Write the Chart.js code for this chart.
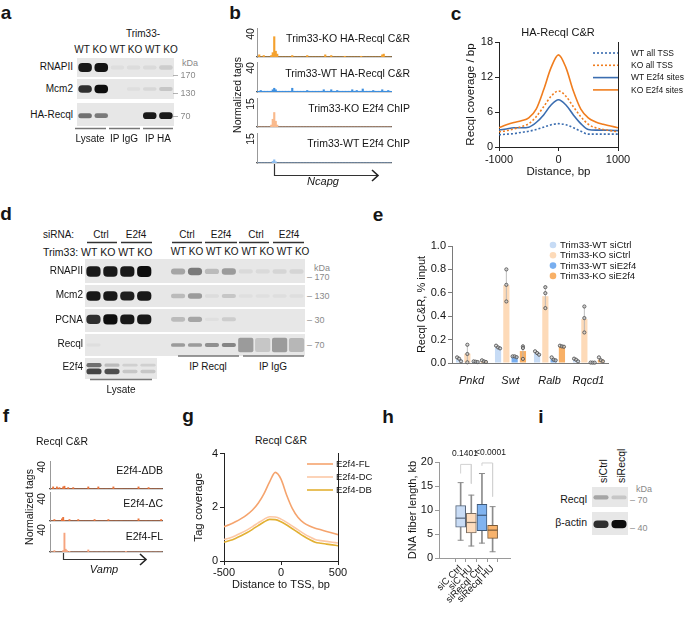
<!DOCTYPE html>
<html>
<head>
<meta charset="utf-8">
<script src="https://cdn.jsdelivr.net/npm/chart.js@4.4.1/dist/chart.umd.min.js"></script>
<style>
  body { margin: 0; background: #fff; }
  #fig { position: relative; width: 685px; height: 624px; overflow: hidden;
         font-family: "Liberation Sans", Arial, sans-serif; color: #151515; }
  #fig canvas { position: absolute; }
  #fig canvas.blot { filter: blur(0.6px); }
  .t { position: absolute; white-space: pre; font-size: 10.5px; line-height: 1; }
  #ov { position: absolute; left: 0; top: 0; z-index: 5; }
</style>
</head>
<body>
<div id="fig"><svg id="ov" width="685" height="624"></svg></div>
<script>
// ---------- data ----------
// a: co-IP blot, band intensity per lane (0..1)
const aLanes = ['WT', 'KO', 'WT', 'KO', 'WT', 'KO'];
const aRNAPII = [0.95, 0.98, 0.04, 0.05, 0.06, 0.12];
const aMcm2 = [0.85, 1.0, 0, 0.04, 0.07, 0.15];
const aRecql = [0.55, 0.5, 0, 0, 0.95, 0.95];

// b: Ncapg locus tracks (normalized tags per bin)
const bKOcr = [0,3,0,0,2,0,0,0,0,2, 6,28,8,4,0,0,0,0,0,0, 0,0,0,2,0,0,0,0,0,0, 0,0,0,2,0,0,0,0,0,0,
               0,0,0,0,0,3,0,0,0,2, 0,0,0,0,0,0,0,0,1,0, 0,0,0,0,0,0,0,0,0,1, 0,0,0,0,0,0,0,0,0,0,
               0,0,0,3,4,0,0,0,0,0];
const bWTcr = [1,1,2,1,1,1,1,1,1,1, 3,5,3,1,1,1,1,1,1,1, 1,1,1,5,1,1,1,1,1,1, 1,1,1,2,1,1,1,1,1,1,
               1,1,1,1,3,1,1,1,1,3, 1,1,1,2,1,1,1,1,1,1, 1,1,1,3,1,1,2,1,1,1, 4,1,1,1,1,1,1,2,1,1,
               1,1,1,3,1,1,1,2,1,1];
const bKOchip = [0,0,0,0,0,0,0,0,0,1, 4,7.5,3,1,0,0,0,0,0,0, 0,0,0,0,0,0,0,0,0,0, 0,0,0,0,0,0,0,0,0,0,
                 0,0,0,0,0,0,0,0,0,0, 0,0,0,0,0,0,0,0,0,0, 0,0,0,0,0,0,0,0,0,0, 0,0,0,0,0,0,0,0,0,0,
                 0,0,0,0,0,0,0,0,0,0];
const bWTchip = [0,0,0,0,0,0,0,0,0,0, 0.8,1.6,0.6,0,0,0,0,0,0,0, 0,0,0,0,0,0,0,0,0,0, 0,0,0,0,0,0,0,0,0,0,
                 0,0,0,0,0,0,0,0,0,0, 0,0,0,0,0,0,0,0,0,0, 0,0,0,0,0,0,0,0,0,0, 0,0,0,0,0,0,0,0,0,0,
                 0,0,0,0,0,0,0,0,0,0];

// c: HA-Recql coverage profiles
const cDist = [-1000,-875,-750,-625,-500,-375,-250,-125,0,125,250,375,500,625,750,875,1000];
const cWTall = [2.1,2.2,2.3,2.5,2.7,3.0,3.4,3.8,4.0,3.8,3.3,2.7,2.2,2.2,2.2,2.2,2.2];
const cKOall = [2.6,2.8,3.1,3.5,4.0,5.2,6.9,8.7,9.6,8.7,6.9,5.2,3.9,3.3,3.0,2.8,2.6];
const cWTe2f4 = [2.9,3.1,3.3,3.3,3.4,4.2,5.5,7.2,8.1,7.2,5.5,4.0,3.0,2.9,2.9,2.85,2.8];
const cKOe2f4 = [3.3,3.8,4.2,4.5,5.0,6.5,9.8,13.6,15.8,13.6,9.6,6.5,5.0,4.3,3.9,3.6,3.3];

// d: co-IP blot, 4 lysate lanes, empty lane, 8 IP lanes
const dLanes = ['WT','KO','WT','KO','','WT','KO','WT','KO','WT','KO','WT','KO'];
const dRNAPII = [0.95,0.95,0.95,1,0, 0.3,0.5,0.2,0.35, 0.06,0.06,0.08,0.08];
const dMcm2 = [0.95,0.95,0.92,0.95,0, 0.2,0.35,0.05,0.15, 0.03,0.03,0.04,0.04];
const dPCNA = [0.85,1,0.95,0.95,0, 0.2,0.3,0.03,0.12, 0,0,0,0];
const dRecql = [0.04,0,0,0,0, 0.35,0.35,0.4,0.45, 0,0,0,0];
const dIgG = [0,0,0,0,0, 0,0,0,0, 0.35,0.15,0.35,0.22];
const dE2f4Up = [0.55,0.2,0.1,0.1];
const dE2f4Lo = [0.75,0.7,0.15,0.15];

// e: Recql C&R qPCR
const eGenes = ['Pnkd', 'Swt', 'Ralb', 'Rqcd1'];
const eSeries = ['Trim33-WT siCtrl', 'Trim33-KO siCtrl', 'Trim33-WT siE2f4', 'Trim33-KO siE2f4'];
const eWTctrl = [0.033, 0.135, 0.085, 0.026];
const eKOctrl = [0.080, 0.665, 0.571, 0.376];
const eWTe2f4 = [0.011, 0.055, 0.033, 0.003];
const eKOe2f4 = [0.015, 0.102, 0.143, 0.028];
const eWTctrlSD = [0.017, 0.012, 0.015, 0.012];
const eKOctrlSD = [0.075, 0.137, 0.092, 0.111];
const eWTe2f4SD = [0.003, 0.004, 0.013, 0.001];
const eKOe2f4SD = [0.007, 0.058, 0.005, 0.018];
const eWTctrlPts = [[0.048,0.037,0.014],[0.148,0.133,0.125],[0.10,0.085,0.071],[0.037,0.028,0.014]];
const eKOctrlPts = [[0.156,0.077,0.006],[0.80,0.668,0.526],[0.648,0.597,0.469],[0.483,0.384,0.261]];
const eWTe2f4Pts = [[0.014,0.011,0.008],[0.057,0.057,0.05],[0.048,0.028,0.023],[0.004,0.003,0.003]];
const eKOe2f4Pts = [[0.023,0.014,0.009],[0.142,0.128,0.035],[0.148,0.142,0.139],[0.048,0.023,0.014]];

// f: Vamp locus tracks
const fDB = [0,0,3,0,0,3,0,2,0,0, 3,4,0,0,2,0,0,0,2,0, 0,0,0,0,0,0,0,0,0,0, 3,0,0,0,0,0,0,0,3,0,
             0,0,0,0,0,0,0,0,0,0, 3,0,0,0,0,0,0,0,0,0, 0,0,0,0,0,0,0,0,0,0, 3,0,0,0,0,0,0,0,2,0,
             0,0,0,0,0,0,0,0,0,0];
const fDC = [0,0,0,2,0,0,0,0,0,3, 5,1,0,0,0,2,0,0,0,0, 0,0,2,0,0,0,0,0,0,0, 0,0,0,0,0,2,0,0,0,0,
             0,0,0,0,0,0,2,0,0,0, 0,0,0,0,0,0,0,0,0,0, 0,0,0,0,0,0,0,0,0,0, 3,0,0,0,0,0,0,0,0,0,
             0,0,0,0,0,0,0,0,2,0];
const fFL = [0,0,0,2,0,0,0,0,0,0, 2,27,4,2,0,1,0,0,0,0, 0,0,0,0,0,0,0,0,0,0, 3,0,0,0,0,0,0,0,0,0,
             0,0,0,0,0,0,0,0,0,0, 0,0,0,0,0,0,0,0,0,0, 1,0,0,0,0,0,0,0,0,0, 0,0,0,0,0,0,0,0,0,0,
             0,0,0,0,0,0,0,0,0,0];

// g: Recql C&R tag coverage around TSS
const gDist = [-500,-450,-400,-350,-300,-250,-200,-150,-100,-50,0,50,100,150,200,250,300,350,400,450,500];
const gFL = [1.28,1.36,1.46,1.58,1.72,1.9,2.15,2.5,2.95,3.3,3.05,2.45,1.95,1.62,1.42,1.3,1.22,1.16,1.1,1.04,0.98];
const gDC = [0.8,0.86,0.94,1.04,1.15,1.28,1.42,1.55,1.65,1.64,1.56,1.44,1.3,1.16,1.02,0.9,0.8,0.76,0.73,0.7,0.67];
const gDB = [0.7,0.76,0.84,0.94,1.05,1.18,1.32,1.45,1.55,1.54,1.46,1.34,1.2,1.06,0.92,0.8,0.7,0.66,0.63,0.6,0.57];

// h: DNA fiber length box plots (kb)
const hGroups = ['siC Ctrl', 'siC HU', 'siRecql Ctrl', 'siRecql HU'];
const hMin = [3.7, 2.5, 3.1, 1.3];
const hQ1 = [6.4, 5.2, 5.7, 4.1];
const hMed = [8.3, 7.4, 8.9, 5.8];
const hQ3 = [10.9, 9.3, 11.2, 6.8];
const hMax = [15.7, 13.1, 17.6, 10.7];
const hP = ['0.1401', '<0.0001'];

// i: knockdown blot
const iLanes = ['siCtrl', 'siRecql'];
const iRecql = [0.3, 0.15];
const iActin = [0.85, 1.0];

// ---------- helpers ----------
const FONT = '"Liberation Sans", Arial, sans-serif';
Chart.defaults.font.family = FONT;
Chart.defaults.font.size = 10.5;
Chart.defaults.color = '#151515';
Chart.defaults.animation = false;
Chart.defaults.responsive = false;
Chart.defaults.events = [];
Chart.defaults.plugins.legend.display = false;
Chart.defaults.plugins.tooltip.enabled = false;

const fig = document.getElementById('fig');
const ov = document.getElementById('ov');

function cv(x, y, w, h, cls) {
  const c = document.createElement('canvas');
  c.width = w; c.height = h;
  c.style.left = x + 'px'; c.style.top = y + 'px';
  if (cls) c.className = cls;
  fig.appendChild(c);
  return c;
}

function T(x, y, s, o = {}) {
  const d = document.createElement('div');
  d.className = 't';
  d.textContent = s;
  d.style.left = x + 'px'; d.style.top = y + 'px';
  if (o.up) {
    d.style.transformOrigin = '0 0';
    d.style.transform = 'rotate(-90deg) translate(0,-50%)';
  } else {
    const a = o.a || 'c';
    const tx = a === 'l' ? '0' : a === 'r' ? '-100%' : '-50%';
    d.style.transform = `translate(${tx},-50%)` + (o.rot ? ` rotate(${o.rot}deg)` : '');
  }
  if (o.s) d.style.fontSize = o.s + 'px';
  if (o.c) d.style.color = o.c;
  if (o.i) d.style.fontStyle = 'italic';
  if (o.b) d.style.fontWeight = 'bold';
  fig.appendChild(d);
}

function line(pts, color, w) {
  const p = document.createElementNS('http://www.w3.org/2000/svg', 'polyline');
  p.setAttribute('points', pts.map(q => q.join(',')).join(' '));
  p.setAttribute('fill', 'none');
  p.setAttribute('stroke', color);
  p.setAttribute('stroke-width', w);
  ov.appendChild(p);
}

const bg = {
  id: 'bg',
  beforeDraw(ch, a, o) {
    if (!o.color) return;
    ch.ctx.save(); ch.ctx.fillStyle = o.color;
    ch.ctx.fillRect(0, 0, ch.width, ch.height); ch.ctx.restore();
  }
};

// legend drawn at fixed spot inside canvas
const lgd = {
  id: 'lgd',
  afterDraw(ch, a, o) {
    if (o.x === undefined) return;
    const ctx = ch.ctx;
    ctx.save();
    ctx.font = `${o.size || 10}px ${FONT}`;
    ctx.textBaseline = 'middle';
    ch.data.datasets.filter(d => d.label).forEach((ds, i) => {
      const y = o.y + i * o.dy;
      if (o.dot) {
        ctx.beginPath(); ctx.arc(o.x, y, 3.3, 0, Math.PI * 2);
        ctx.fillStyle = ds.backgroundColor; ctx.fill();
      } else {
        ctx.beginPath(); ctx.setLineDash(ds.borderDash || []);
        ctx.strokeStyle = ds.borderColor; ctx.lineWidth = ds.borderWidth || 1.5;
        ctx.moveTo(o.x, y); ctx.lineTo(o.x + o.len, y); ctx.stroke();
        ctx.setLineDash([]);
      }
      ctx.fillStyle = '#151515';
      ctx.fillText(ds.label, o.x + o.gap, y + 0.5);
    });
    ctx.restore();
  }
};

function blot(x, y, w, h, bands) {
  new Chart(cv(x, y, w, h, 'blot'), {
    type: 'bar',
    data: {
      labels: bands[0].vals.map((_, i) => i),
      datasets: bands.map(b => ({
        data: b.vals.map(v => v > 0 ? [b.c - b.h0 - b.k * v, b.c + b.h0 + b.k * v] : null),
        backgroundColor: b.vals.map(v => `rgba(14,14,14,${v})`),
        borderRadius: b.r === undefined ? 4 : b.r, borderSkipped: false,
        barPercentage: b.bp || 0.84, categoryPercentage: 1, grouped: false
      }))
    },
    options: {
      scales: { x: { display: false }, y: { display: false, min: 0, max: 1 } },
      plugins: { bg: { color: '#e7e7e7' } }
    },
    plugins: [bg]
  });
}

function track(x, y, w, h, vals, max, color) {
  new Chart(cv(x, y, w, h), {
    type: 'bar',
    data: { labels: vals.map((_, i) => i),
      datasets: [{ data: vals, backgroundColor: color, barPercentage: 1, categoryPercentage: 1 }] },
    options: {
      layout: { padding: { left: 1, top: 0, right: 0, bottom: 1 } },
      scales: {
        x: { grid: { display: false }, ticks: { display: false }, border: { color: '#555', width: 1.2 },
             afterFit: s => { s.height = 0; } },
        y: { min: 0, max, grid: { display: false }, ticks: { display: false }, border: { color: '#999', width: 1 },
             afterFit: s => { s.width = 0; } }
      }
    }
  });
}

// ---------- panel letters ----------
[['a', 6, 12], ['b', 235, 12], ['c', 456, 13], ['d', 6, 213], ['e', 378, 214],
 ['f', 6, 415], ['g', 188, 415], ['h', 388, 416], ['i', 541, 416]]
  .forEach(([s, x, y]) => T(x, y, s, { b: true, s: 19 }));

// ---------- a ----------
T(143, 34, 'Trim33-', { s: 10 });
T(126, 50, aLanes.join(' '), { s: 10 });
blot(77, 58, 97, 19, [{ vals: aRNAPII, c: 0.5, h0: 0.1, k: 0.14 }]);
blot(77, 79, 97, 20, [{ vals: aMcm2, c: 0.5, h0: 0.08, k: 0.13 }]);
blot(77, 103, 97, 23, [{ vals: aRecql, c: 0.45, h0: 0.06, k: 0.09 }]);
T(73, 67, 'RNAPII', { a: 'r', s: 10 }); T(73, 89, 'Mcm2', { a: 'r', s: 10 }); T(73, 115, 'HA-Recql', { a: 'r', s: 10 });
T(182, 63, 'kDa', { a: 'l', s: 9, c: '#8a8a8a' });
T(173, 75, '– 170', { a: 'l', s: 9, c: '#8a8a8a' });
T(173, 93, '– 130', { a: 'l', s: 9, c: '#8a8a8a' });
T(173, 116, '– 70', { a: 'l', s: 9, c: '#8a8a8a' });
line([[75, 128.5], [106, 128.5]], '#777', 1.5);
line([[109, 128.5], [140, 128.5]], '#777', 1.5);
line([[143, 128.5], [173, 128.5]], '#777', 1.5);
T(90, 139, 'Lysate', { s: 10 }); T(124, 139, 'IP IgG', { s: 10 }); T(158, 139, 'IP HA', { s: 10 });

// ---------- b ----------
track(256, 28, 136, 30, bKOcr, 40, '#f4a12e');
track(256, 62, 136, 31, bWTcr, 40, '#3d8fe0');
track(256, 98, 136, 30, bKOchip, 15, '#f9b98c');
track(256, 133, 136, 31, bWTchip, 15, '#8dbdf0');
T(237, 95, 'Normalized tags', { rot: -90 });
T(250, 34, '40', { rot: -90 }); T(250, 68, '40', { rot: -90 });
T(250, 104, '15', { rot: -90 }); T(250, 139, '15', { rot: -90 });
T(410, 38, 'Trim33-KO HA-Recql C&R', { a: 'r' });
T(410, 73, 'Trim33-WT HA-Recql C&R', { a: 'r' });
T(410, 108, 'Trim33-KO E2f4 ChIP', { a: 'r' });
T(410, 143, 'Trim33-WT E2f4 ChIP', { a: 'r' });
line([[274.5, 164], [274.5, 175.5], [378, 175.5]], '#333', 1.2);
line([[372, 170], [378, 175.5], [372, 181]], '#222', 1.6);
T(323, 181, 'Ncapg', { i: true, s: 11 });

// ---------- c ----------
const axisDark = { color: '#222', width: 1 };
new Chart(cv(455, 22, 230, 165), {
  type: 'line',
  data: { datasets: [
    { label: 'WT all TSS', data: cDist.map((x, i) => ({ x, y: cWTall[i] })), borderColor: '#3b6db0', borderDash: [2, 2], borderWidth: 1.6 },
    { label: 'KO all TSS', data: cDist.map((x, i) => ({ x, y: cKOall[i] })), borderColor: '#f07d1e', borderDash: [2, 2], borderWidth: 1.6 },
    { label: 'WT E2f4 sites', data: cDist.map((x, i) => ({ x, y: cWTe2f4[i] })), borderColor: '#3b6db0', borderWidth: 1.6 },
    { label: 'KO E2f4 sites', data: cDist.map((x, i) => ({ x, y: cKOe2f4[i] })), borderColor: '#f07d1e', borderWidth: 1.6 }
  ] },
  options: {
    layout: { padding: { left: 9, top: 20, right: 67, bottom: 8 } },
    elements: { point: { radius: 0 }, line: { cubicInterpolationMode: 'monotone', fill: false } },
    scales: {
      x: { type: 'linear', min: -1000, max: 1000, border: axisDark,
           grid: { drawOnChartArea: false, tickLength: 4, color: '#222' },
           ticks: { stepSize: 1000, maxRotation: 0, font: { size: 11 }, padding: 2, callback: v => String(v) },
           title: { display: true, text: 'Distance, bp', font: { size: 11.5 }, padding: 0 },
           afterFit: s => { s.height = 32; } },
      y: { min: 0, max: 18, border: axisDark,
           grid: { drawOnChartArea: false, tickLength: 4, color: '#222' },
           ticks: { stepSize: 6, font: { size: 11 }, padding: 2 },
           title: { display: true, text: 'Recql coverage / bp', font: { size: 11.5 }, padding: 0 },
           afterFit: s => { s.width = 35; } },
      y2: { position: 'right', grid: { display: false }, ticks: { display: false }, border: axisDark,
            afterFit: s => { s.width = 0; } }
    },
    plugins: { lgd: { x: 138, y: 31, dy: 12.3, len: 25, gap: 38, size: 8.5 } }
  },
  plugins: [lgd]
});
T(558, 32, 'HA-Recql C&R', { s: 11 });

// ---------- d ----------
T(43, 235, 'siRNA:', { a: 'l', s: 10 });
[['Ctrl', 101], ['E2f4', 136], ['Ctrl', 187], ['E2f4', 221], ['Ctrl', 256], ['E2f4', 289]]
  .forEach(([s, x]) => T(x, 235, s, { s: 10 }));
[[87, 117], [121, 152], [172, 202], [205, 237], [239, 269], [273, 304]]
  .forEach(([x0, x1]) => line([[x0, 242.5], [x1, 242.5]], '#333', 1.5));
T(43, 252, 'Trim33: ' + dLanes.slice(0, 4).join(' '), { a: 'l', s: 10.5 });
T(240, 252, dLanes.slice(5).join(' '), { s: 10 });
blot(85, 259, 220, 24, [{ vals: dRNAPII, c: 0.48, h0: 0.08, k: 0.15 }]);
blot(85, 285, 220, 22, [{ vals: dMcm2, c: 0.5, h0: 0.07, k: 0.15 }]);
blot(85, 309, 220, 23, [{ vals: dPCNA, c: 0.55, h0: 0.07, k: 0.15 }]);
blot(85, 334, 220, 22, [{ vals: dRecql, c: 0.5, h0: 0.06, k: 0.07 },
                        { vals: dIgG, c: 0.5, h0: 0.3, k: 0.1, r: 2, bp: 0.9 }]);
blot(85, 358, 72, 21, [{ vals: dE2f4Up, c: 0.66, h0: 0.06, k: 0.07 },
                       { vals: dE2f4Lo, c: 0.36, h0: 0.07, k: 0.09 }]);
T(83, 271, 'RNAPII', { a: 'r', s: 10 }); T(83, 295, 'Mcm2', { a: 'r', s: 10 }); T(83, 320, 'PCNA', { a: 'r', s: 10 });
T(83, 344, 'Recql', { a: 'r', s: 10 }); T(83, 367, 'E2f4', { a: 'r', s: 10 });
T(314, 268, 'kDa', { a: 'l', s: 9, c: '#8a8a8a' });
T(307, 277, '– 170', { a: 'l', s: 9, c: '#8a8a8a' });
T(307, 296, '– 130', { a: 'l', s: 9, c: '#8a8a8a' });
T(307, 320, '– 30', { a: 'l', s: 9, c: '#8a8a8a' });
T(307, 345, '– 70', { a: 'l', s: 9, c: '#8a8a8a' });
line([[178, 356], [239, 356]], '#777', 1.5);
line([[243, 356], [304, 356]], '#777', 1.5);
T(208, 367, 'IP Recql', { s: 10 }); T(273, 367, 'IP IgG', { s: 10 });
line([[90, 379.5], [152, 379.5]], '#777', 1.5);
T(121, 390, 'Lysate', { s: 10 });

// ---------- e ----------
const eVals = [eWTctrl, eKOctrl, eWTe2f4, eKOe2f4];
const eSD = [eWTctrlSD, eKOctrlSD, eWTe2f4SD, eKOe2f4SD];
const ePts = [eWTctrlPts, eKOctrlPts, eWTe2f4Pts, eKOe2f4Pts];
const eCol = ['#c6dbf5', '#fddab8', '#78aeef', '#f8b066'];
const reps = {
  id: 'reps',
  afterDatasetsDraw(ch) {
    const ctx = ch.ctx, ys = ch.scales.y;
    ctx.save();
    ePts.forEach((ser, di) => {
      const meta = ch.getDatasetMeta(di);
      ser.forEach((p, gi) => {
        const bx = meta.data[gi].x, m = eVals[di][gi], sd = eSD[di][gi];
        ctx.strokeStyle = '#b5b5b5'; ctx.lineWidth = 0.9;
        ctx.beginPath();
        ctx.moveTo(bx, ys.getPixelForValue(m + sd));
        ctx.lineTo(bx, ys.getPixelForValue(Math.max(0, m - sd)));
        ctx.stroke();
        const spread = Math.max(...p) - Math.min(...p);
        const off = spread < 0.06 ? [-2, 0, 2] : [0, 0, 0];
        p.forEach((v, k) => {
          ctx.beginPath();
          ctx.arc(bx + off[k], ys.getPixelForValue(v), 1.6, 0, Math.PI * 2);
          ctx.fillStyle = 'rgba(200,200,200,0.6)'; ctx.fill();
          ctx.strokeStyle = '#555'; ctx.lineWidth = 0.9; ctx.stroke();
        });
      });
    });
    ctx.restore();
  }
};
const axisGray = { color: '#7a7a7a', width: 1 };
new Chart(cv(405, 232, 280, 156), {
  type: 'bar',
  data: { labels: eGenes, datasets: eSeries.map((label, i) => ({
    label, data: eVals[i], backgroundColor: eCol[i], barPercentage: 0.75, categoryPercentage: 0.85
  })) },
  options: {
    layout: { padding: { left: 10, top: 14, right: 77, bottom: 0 } },
    scales: {
      x: { border: axisGray, grid: { display: false },
           ticks: { font: { size: 11, style: 'italic' }, padding: 3 },
           afterFit: s => { s.height = 25; } },
      y: { min: 0, max: 1, border: axisGray,
           grid: { drawOnChartArea: false, tickLength: 4, color: '#7a7a7a' },
           ticks: { stepSize: 0.2, font: { size: 11 }, padding: 2, callback: v => v.toFixed(1) },
           title: { display: true, text: 'Recql C&R, % input', font: { size: 11 }, padding: 0 },
           afterFit: s => { s.width = 37; } }
    },
    plugins: { lgd: { x: 148, y: 13, dy: 10.3, gap: 7, dot: true, size: 9.5 } }
  },
  plugins: [lgd, reps]
});

// ---------- f ----------
T(62, 441, 'Recql C&R');
track(49, 461, 114, 29, fDB, 40, '#e9733a');
track(49, 492, 114, 30, fDC, 40, '#e9733a');
track(49, 524, 114, 29, fFL, 40, '#f6a47e');
T(29, 507, 'Normalized tags', { rot: -90 });
T(41, 467, '40', { rot: -90 }); T(41, 499, '40', { rot: -90 }); T(41, 530, '40', { rot: -90 });
T(163, 470, 'E2f4-ΔDB', { a: 'r' });
T(163, 503, 'E2f4-ΔC', { a: 'r' });
T(163, 536, 'E2f4-FL', { a: 'r' });
line([[63.5, 553], [63.5, 559.5], [146, 559.5]], '#333', 1.2);
line([[140, 554], [146, 559.5], [140, 565]], '#222', 1.6);
T(104, 569, 'Vamp', { i: true, s: 11 });

// ---------- g ----------
T(281, 440, 'Recql C&R');
new Chart(cv(185, 445, 200, 150), {
  type: 'line',
  data: { datasets: [
    { label: 'E2f4-FL', data: gDist.map((x, i) => ({ x, y: gFL[i] })), borderColor: '#f5a46e', borderWidth: 1.6 },
    { label: 'E2f4-DC', data: gDist.map((x, i) => ({ x, y: gDC[i] })), borderColor: '#fcc8a6', borderWidth: 1.6 },
    { label: 'E2f4-DB', data: gDist.map((x, i) => ({ x, y: gDB[i] })), borderColor: '#e2b032', borderWidth: 1.6 }
  ] },
  options: {
    layout: { padding: { left: 7, top: 8, right: 47, bottom: 3 } },
    elements: { point: { radius: 0 }, line: { cubicInterpolationMode: 'monotone', fill: false } },
    scales: {
      x: { type: 'linear', min: -500, max: 500, border: axisDark,
           grid: { drawOnChartArea: false, tickLength: 4, color: '#222' },
           ticks: { stepSize: 500, maxRotation: 0, font: { size: 11 }, padding: 1, callback: v => String(v) },
           title: { display: true, text: 'Distance to TSS, bp', font: { size: 11 }, padding: 0 },
           afterFit: s => { s.height = 31; } },
      y: { min: 0, max: 4, border: axisDark,
           grid: { drawOnChartArea: false, tickLength: 4, color: '#222' },
           ticks: { stepSize: 2, font: { size: 11 }, padding: 2 },
           title: { display: true, text: 'Tag coverage', font: { size: 11.5 }, padding: 0 },
           afterFit: s => { s.width = 32; } },
      y2: { position: 'right', grid: { display: false }, ticks: { display: false }, border: axisDark,
            afterFit: s => { s.width = 0; } }
    },
    plugins: { lgd: { x: 122, y: 19, dy: 13, len: 26, gap: 29, size: 9.5 } }
  },
  plugins: [lgd]
});

// ---------- h ----------
const hX = hGroups.map((_, i) => i + 1);
const hFill = ['#c9dcf5', '#fddcbd', '#80b3ef', '#f8b36d'];
const hEdge = ['#56657a', '#7c6f62', '#3f5978', '#7a5a38'];
const ptext = {
  id: 'ptext',
  afterDraw(ch, a, o) {
    if (!o.items) return;
    const ctx = ch.ctx;
    ctx.save(); ctx.font = `8.5px ${FONT}`; ctx.fillStyle = '#151515';
    ctx.textAlign = 'center'; ctx.textBaseline = 'middle';
    o.items.forEach(it => ctx.fillText(it.t, ch.scales.x.getPixelForValue(it.x), ch.scales.y.getPixelForValue(it.y)));
    ctx.restore();
  }
};
new Chart(cv(395, 440, 125, 182), {
  type: 'bar',
  data: { datasets: [
    { type: 'line', data: [{ x: 1, y: 17.6 }, { x: 1, y: 19.5 }, { x: 2, y: 19.5 }, { x: 2, y: 15.5 }],
      borderColor: '#d2d2d2', borderWidth: 1, pointRadius: 0, tension: 0, order: 5 },
    { type: 'line', data: [{ x: 3, y: 19.2 }, { x: 3, y: 19.8 }, { x: 4, y: 19.8 }, { x: 4, y: 12.8 }],
      borderColor: '#d2d2d2', borderWidth: 1, pointRadius: 0, tension: 0, order: 5 },
    { data: hX.map((x, i) => ({ x, y: [hMin[i], hMax[i]] })), backgroundColor: '#8c8c8c',
      barThickness: 1, grouped: false, order: 4 },
    { data: hX.map((x, i) => ({ x, y: [hQ1[i], hQ3[i]] })), backgroundColor: hFill, borderColor: hEdge,
      borderWidth: 1, borderSkipped: false, barThickness: 10, grouped: false, order: 3 },
    { type: 'line', data: [...hX.map((x, i) => ({ x, y: hMin[i] })), ...hX.map((x, i) => ({ x, y: hMax[i] }))],
      showLine: false, pointStyle: 'line', pointRadius: 3, pointBorderColor: '#8c8c8c', pointBorderWidth: 1, order: 2 },
    { type: 'line', data: hX.map((x, i) => ({ x, y: hMed[i] })), showLine: false, pointStyle: 'line',
      pointRadius: 5, pointBorderColor: hEdge, pointBorderWidth: 1.2, order: 1 }
  ] },
  options: {
    layout: { padding: { left: 11, top: 22, right: 10, bottom: 0 } },
    scales: {
      x: { type: 'linear', min: -0.2, max: 4.8, border: { color: '#9a9a9a' },
           grid: { drawOnChartArea: false, tickLength: 4, color: '#9a9a9a' },
           afterBuildTicks: s => { s.ticks = hX.map(v => ({ value: v })); },
           ticks: { autoSkip: false, minRotation: 45, maxRotation: 45, font: { size: 9.5 }, padding: 1,
                    callback: v => hGroups[v - 1] },
           afterFit: s => { s.height = 64; } },
      y: { min: 0, max: 20, border: { color: '#9a9a9a' },
           grid: { drawOnChartArea: false, tickLength: 4, color: '#9a9a9a' },
           ticks: { stepSize: 5, font: { size: 11 }, padding: 2 },
           title: { display: true, text: 'DNA fiber length, kb', font: { size: 11 }, padding: 0 },
           afterFit: s => { s.width = 33; } }
    },
    plugins: { ptext: { items: [{ t: hP[0], x: 1.4, y: 21.8 }, { t: hP[1], x: 3.8, y: 21.9 }] } }
  },
  plugins: [ptext]
});

// ---------- i ----------
T(603, 483, iLanes[0], { up: true });
T(621, 483, iLanes[1], { up: true });
blot(592, 487, 36, 20, [{ vals: iRecql, c: 0.48, h0: 0.08, k: 0.08 }]);
blot(592, 512, 36, 23, [{ vals: iActin, c: 0.47, h0: 0.08, k: 0.1 }]);
T(587, 499, 'Recql', { a: 'r' }); T(587, 522, 'β-actin', { a: 'r' });
T(636, 489, 'kDa', { a: 'l', s: 9, c: '#8a8a8a' });
T(630, 500, '– 70', { a: 'l', s: 9, c: '#8a8a8a' });
T(630, 528, '– 40', { a: 'l', s: 9, c: '#8a8a8a' });
</script>
</body>
</html>
